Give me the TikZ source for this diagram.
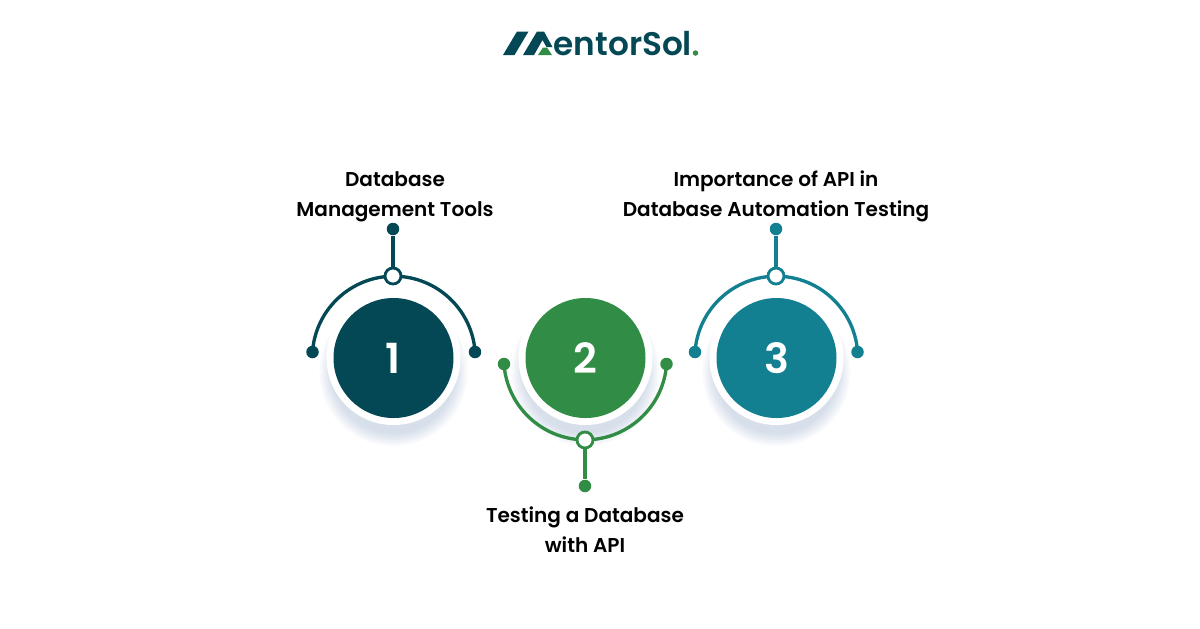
\documentclass[tikz,border=0pt]{standalone}
\usepackage{fontspec}
\setmainfont{Poppins}
\newfontfamily\labelfont{Poppins SemiBold}
\usetikzlibrary{positioning}
\definecolor{darkteal}{RGB}{3,72,84}
\definecolor{midgreen}{RGB}{49,140,69}
\definecolor{midteal}{RGB}{19,128,146}
\definecolor{shadowblue}{RGB}{70,110,160}
\tikzset{
  numdisc/.style={circle,minimum size=1.2cm,inner sep=0pt,text=white,font=\labelfont\fontsize{11.8}{13}\selectfont},
  enddot/.style={circle,minimum size=0.125cm,inner sep=0pt},
  ringdot/.style={circle,draw,line width=0.8pt,fill=white,minimum size=0.16cm,inner sep=0pt},
  arcline/.style={line width=0.95pt},
  steptext/.style={align=center,font=\labelfont\fontsize{5.7}{8.5}\selectfont,text=black},
}
\begin{document}
\begin{tikzpicture}
\useasboundingbox (0,0) rectangle (12,-6.28);
\fill[white] (0,0) rectangle (12,-6.28);%
% logo
\fill[darkteal] (5.03,-0.55) -- (5.17,-0.315) -- (5.285,-0.315) -- (5.145,-0.55) -- cycle;%
\fill[darkteal] (5.23,-0.55) -- (5.37,-0.315) -- (5.44,-0.315) -- (5.525,-0.47) -- (5.465,-0.47) -- (5.425,-0.40) -- (5.34,-0.55) -- cycle;%
\fill[midgreen] (5.38,-0.55) -- (5.43,-0.475) -- (5.47,-0.475) -- (5.52,-0.55) -- cycle;%
\node[anchor=base west,inner sep=0pt,text=darkteal,font=\labelfont\fontsize{9.3}{11}\selectfont] (logotext) at (5.53,-0.55) {entorSol};%
\node[circle,fill=midgreen,minimum size=0.055cm,inner sep=0pt] (logodot) at (6.955,-0.53) {};%
% shadows
\foreach \cx in {3.935,5.855,7.765} {
  \foreach \rr in {0.62,0.64,...,0.76} {
    \fill[shadowblue,opacity=0.03] (\cx,-3.72) circle (\rr);%
  }
}
% step 1
\node[numdisc,fill=white,minimum size=1.34cm] (ring1) at (3.935,-3.58) {};%
\node[numdisc,fill=darkteal] (disc1) at (3.935,-3.58) {1};%
\node[enddot,fill=darkteal] (left1) at (3.125,-3.52) {};%
\node[enddot,fill=darkteal] (right1) at (4.75,-3.52) {};%
\node[enddot,fill=darkteal] (stem1) at (3.93,-2.29) {};%
\draw[arcline,darkteal] (left1.center) arc[start angle=176,end angle=4,radius=0.815];%
\node[ringdot,draw=darkteal] (hub1) at (3.93,-2.76) {};%
\draw[arcline,darkteal] (hub1) -- (stem1);%
\node[steptext] (text1) at (3.95,-1.965) {Database\\Management Tools};%
% step 2
\node[numdisc,fill=white,minimum size=1.34cm] (ring2) at (5.855,-3.58) {};%
\node[numdisc,fill=midgreen] (disc2) at (5.855,-3.58) {2};%
\node[enddot,fill=midgreen] (left2) at (5.04,-3.64) {};%
\node[enddot,fill=midgreen] (right2) at (6.665,-3.64) {};%
\node[enddot,fill=midgreen] (stem2) at (5.85,-4.86) {};%
\draw[arcline,midgreen] (left2.center) arc[start angle=184,end angle=356,radius=0.815];%
\node[ringdot,draw=midgreen] (hub2) at (5.85,-4.40) {};%
\draw[arcline,midgreen] (hub2) -- (stem2);%
\node[steptext] (text2) at (5.85,-5.295) {Testing a Database\\with API};%
% step 3
\node[numdisc,fill=white,minimum size=1.34cm] (ring3) at (7.765,-3.58) {};%
\node[numdisc,fill=midteal] (disc3) at (7.765,-3.58) {3};%
\node[enddot,fill=midteal] (left3) at (6.95,-3.52) {};%
\node[enddot,fill=midteal] (right3) at (8.575,-3.52) {};%
\node[enddot,fill=midteal] (stem3) at (7.76,-2.29) {};%
\draw[arcline,midteal] (left3.center) arc[start angle=176,end angle=4,radius=0.815];%
\node[ringdot,draw=midteal] (hub3) at (7.76,-2.76) {};%
\draw[arcline,midteal] (hub3) -- (stem3);%
\node[steptext] (text3) at (7.76,-1.965) {Importance of API in\\Database Automation Testing};%
\end{tikzpicture}
\end{document}
